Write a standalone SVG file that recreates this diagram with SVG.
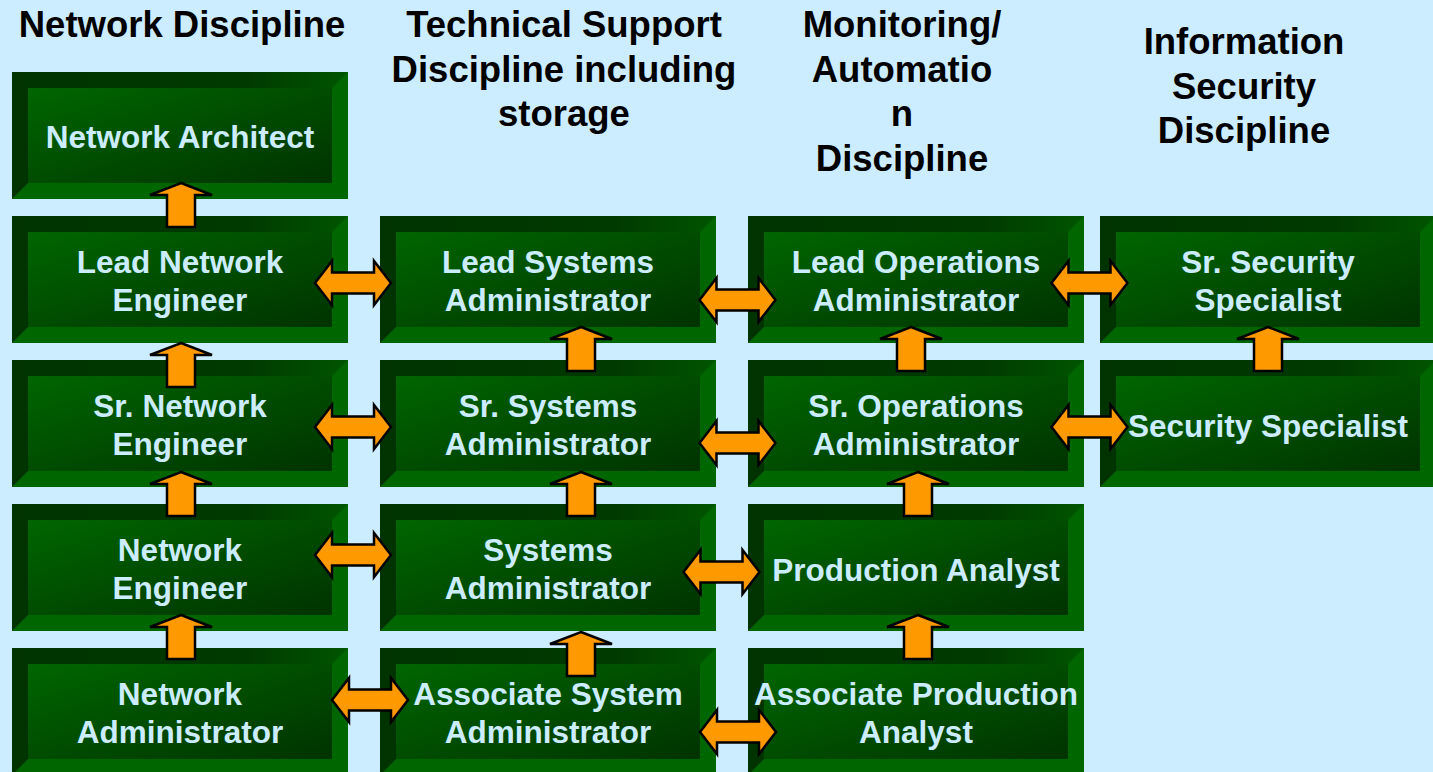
<svg xmlns="http://www.w3.org/2000/svg" xmlns:xlink="http://www.w3.org/1999/xlink" width="1433" height="772" viewBox="0 0 1433 772">
  <style>
    .hdr { font-family: "Liberation Sans", Arial, sans-serif; font-weight: bold; font-size: 36.5px; fill: #000; text-anchor: middle; }
    .lbl { font-family: "Liberation Sans", Arial, sans-serif; font-weight: bold; font-size: 31.5px; fill: #CCECFF; text-anchor: middle; }
    .arrow { fill: #FF9900; stroke: #000; stroke-width: 2.5; stroke-linejoin: miter; }
  </style>
  <defs>
    <linearGradient id="rimDark" x1="0" y1="0" x2="1" y2="0">
      <stop offset="0" stop-color="#003300"/>
      <stop offset="0.7" stop-color="#003a00"/>
      <stop offset="1" stop-color="#005500"/>
    </linearGradient>
    <linearGradient id="faceGrad" x1="0" y1="0" x2="1" y2="1">
      <stop offset="0" stop-color="#006600"/>
      <stop offset="1" stop-color="#003300"/>
    </linearGradient>
    <!-- bevelled tile: 336 x 127 outer, 16px rim -->
    <g id="tile">
      <rect x="0" y="0" width="336" height="127" fill="#006600"/>
      <polygon points="0,0 336,0 320,16 16,16 16,111 0,127" fill="url(#rimDark)"/>
      <rect x="16" y="16" width="304" height="95" fill="url(#faceGrad)"/>
    </g>
    <path id="up" class="arrow" d="M0,0 L31,12 L14,12 L14,44 L-14,44 L-14,12 L-31,12 Z"/>
    <path id="both" class="arrow" d="M-38,0 L-21,-22 L-21,-10.5 L21,-10.5 L21,-22 L38,0 L21,22 L21,10.5 L-21,10.5 L-21,22 Z"/>
  </defs>

  <rect x="0" y="0" width="1433" height="772" fill="#CCECFF"/>

  <!-- column headings -->
  <g id="headings">
    <text class="hdr" x="182" y="37">Network Discipline</text>
    <text class="hdr" x="564" y="37">Technical Support</text>
    <text class="hdr" x="564" y="81.5">Discipline including</text>
    <text class="hdr" x="564" y="126">storage</text>
    <text class="hdr" x="902" y="37">Monitoring/</text>
    <text class="hdr" x="902" y="81.5">Automatio</text>
    <text class="hdr" x="902" y="126">n</text>
    <text class="hdr" x="902" y="170.5">Discipline</text>
    <text class="hdr" x="1244" y="54">Information</text>
    <text class="hdr" x="1244" y="98.5">Security</text>
    <text class="hdr" x="1244" y="143">Discipline</text>
  </g>

  <!-- network column -->
  <g id="network-architect">
    <use xlink:href="#tile" x="12" y="72"/>
    <text class="lbl" x="180" y="148">Network Architect</text>
  </g>
  <g id="lead-network-engineer">
    <use xlink:href="#tile" x="12" y="216"/>
    <text class="lbl" x="180" y="273">Lead Network</text>
    <text class="lbl" x="180" y="311">Engineer</text>
  </g>
  <g id="sr-network-engineer">
    <use xlink:href="#tile" x="12" y="360"/>
    <text class="lbl" x="180" y="417">Sr. Network</text>
    <text class="lbl" x="180" y="455">Engineer</text>
  </g>
  <g id="network-engineer">
    <use xlink:href="#tile" x="12" y="504"/>
    <text class="lbl" x="180" y="561">Network</text>
    <text class="lbl" x="180" y="599">Engineer</text>
  </g>
  <g id="network-administrator">
    <use xlink:href="#tile" x="12" y="648"/>
    <text class="lbl" x="180" y="705">Network</text>
    <text class="lbl" x="180" y="743">Administrator</text>
  </g>

  <!-- technical support column -->
  <g id="lead-systems-administrator">
    <use xlink:href="#tile" x="380" y="216"/>
    <text class="lbl" x="548" y="273">Lead Systems</text>
    <text class="lbl" x="548" y="311">Administrator</text>
  </g>
  <g id="sr-systems-administrator">
    <use xlink:href="#tile" x="380" y="360"/>
    <text class="lbl" x="548" y="417">Sr. Systems</text>
    <text class="lbl" x="548" y="455">Administrator</text>
  </g>
  <g id="systems-administrator">
    <use xlink:href="#tile" x="380" y="504"/>
    <text class="lbl" x="548" y="561">Systems</text>
    <text class="lbl" x="548" y="599">Administrator</text>
  </g>
  <g id="associate-system-administrator">
    <use xlink:href="#tile" x="380" y="648"/>
    <text class="lbl" x="548" y="705">Associate System</text>
    <text class="lbl" x="548" y="743">Administrator</text>
  </g>

  <!-- monitoring / automation column -->
  <g id="lead-operations-administrator">
    <use xlink:href="#tile" x="748" y="216"/>
    <text class="lbl" x="916" y="273">Lead Operations</text>
    <text class="lbl" x="916" y="311">Administrator</text>
  </g>
  <g id="sr-operations-administrator">
    <use xlink:href="#tile" x="748" y="360"/>
    <text class="lbl" x="916" y="417">Sr. Operations</text>
    <text class="lbl" x="916" y="455">Administrator</text>
  </g>
  <g id="production-analyst">
    <use xlink:href="#tile" x="748" y="504"/>
    <text class="lbl" x="916" y="581">Production Analyst</text>
  </g>
  <g id="associate-production-analyst">
    <use xlink:href="#tile" x="748" y="648"/>
    <text class="lbl" x="916" y="705">Associate Production</text>
    <text class="lbl" x="916" y="743">Analyst</text>
  </g>

  <!-- information security column -->
  <g id="sr-security-specialist">
    <use xlink:href="#tile" x="1100" y="216"/>
    <text class="lbl" x="1268" y="273">Sr. Security</text>
    <text class="lbl" x="1268" y="311">Specialist</text>
  </g>
  <g id="security-specialist">
    <use xlink:href="#tile" x="1100" y="360"/>
    <text class="lbl" x="1268" y="437">Security Specialist</text>
  </g>

  <!-- connectors: promotion paths (up) and lateral moves (double-headed) -->
  <g id="connectors">
    <use xlink:href="#up" x="181" y="183"/>
    <use xlink:href="#up" x="181" y="343"/>
    <use xlink:href="#up" x="181" y="472"/>
    <use xlink:href="#up" x="181" y="615"/>

    <use xlink:href="#up" x="581" y="327"/>
    <use xlink:href="#up" x="581" y="472"/>
    <use xlink:href="#up" x="581" y="632"/>

    <use xlink:href="#up" x="911" y="327"/>
    <use xlink:href="#up" x="918" y="472"/>
    <use xlink:href="#up" x="918" y="615"/>

    <use xlink:href="#up" x="1268" y="327"/>

    <use xlink:href="#both" x="353" y="283"/>
    <use xlink:href="#both" x="737.5" y="300"/>
    <use xlink:href="#both" x="1089.5" y="283"/>

    <use xlink:href="#both" x="353" y="427"/>
    <use xlink:href="#both" x="737.5" y="443"/>
    <use xlink:href="#both" x="1089.5" y="427"/>

    <use xlink:href="#both" x="353" y="555"/>
    <use xlink:href="#both" x="721.5" y="572"/>

    <use xlink:href="#both" x="370" y="700"/>
    <use xlink:href="#both" x="738" y="732"/>
  </g>
</svg>
